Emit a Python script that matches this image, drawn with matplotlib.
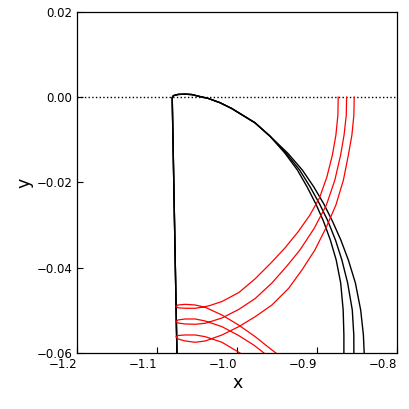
import numpy as np
import matplotlib
matplotlib.use("Agg")
import matplotlib.pyplot as plt

# black curves: shared upper part, then three separate tails
black_top_x = [-1.0754, -1.0813, -1.0798, -1.0741, -1.0654, -1.0566, -1.0488,
               -1.0362, -1.0216, -1.0070, -0.9779, -0.9591]
black_top_y = [-0.06, -0.0001, 0.00035, 0.00063, 0.0007, 0.0006, 0.00023,
               -0.0003, -0.0013, -0.00265, -0.0060, -0.00914]
black_tail_y = [-0.01312, -0.01711, -0.02109, -0.02508, -0.02906, -0.03352,
                -0.0382, -0.04359, -0.04992, -0.05578, -0.06]
black_tail_inner_x = [-0.9404, -0.9247, -0.9125, -0.9016, -0.8922, -0.8835,
                      -0.8762, -0.8706, -0.8675, -0.8666, -0.8666]
black_tail_middle_x = [-0.9389, -0.9219, -0.9087, -0.8969, -0.8866, -0.8771,
                       -0.8691, -0.8619, -0.8561, -0.8542, -0.8541]
black_tail_outer_x = [-0.9369, -0.9185, -0.9041, -0.8916, -0.8810, -0.8704,
                      -0.8610, -0.8522, -0.8456, -0.8422, -0.8412]

# red curves
red1_x = [-0.8737, -0.8741, -0.8766, -0.8810, -0.8879, -0.8972, -0.9091, -0.9241,
          -0.9404, -0.9579, -0.9779, -0.9979, -1.0191, -1.0341, -1.0420, -1.0525,
          -1.0650, -1.0741, -1.0766, -1.0741, -1.0650, -1.0525, -1.0400, -1.0191,
          -0.9983, -0.9775, -0.9566, -0.9516]
red1_y = [0.0, -0.00422, -0.00891, -0.01359, -0.01875, -0.02367, -0.02766, -0.03164,
          -0.03539, -0.03891, -0.04266, -0.04582, -0.04793, -0.04887, -0.04922, -0.04952,
          -0.04952, -0.04941, -0.0491, -0.04875, -0.04859, -0.04875, -0.04929, -0.0511,
          -0.05344, -0.05618, -0.0593, -0.0600]
red2_x = [-0.8632, -0.8636, -0.8664, -0.8707, -0.8779, -0.8885, -0.9035, -0.9216,
          -0.9379, -0.9566, -0.9775, -0.9982, -1.0191, -1.0400, -1.0525, -1.0650,
          -1.0741, -1.0766, -1.0741, -1.0650, -1.0525, -1.0400, -1.0191, -0.9983,
          -0.9791, -0.9666]
red2_y = [0.0, -0.00422, -0.00891, -0.01359, -0.01945, -0.02531, -0.0307, -0.03586,
          -0.03961, -0.04359, -0.04723, -0.0498, -0.0518, -0.05304, -0.05327, -0.0532,
          -0.05297, -0.05266, -0.05226, -0.05203, -0.05203, -0.0525, -0.05383, -0.0559,
          -0.05817, -0.0600]
red3_x = [-0.8537, -0.8541, -0.8566, -0.8610, -0.8672, -0.8766, -0.8891, -0.9029,
          -0.9191, -0.9357, -0.9566, -0.9775, -0.9982, -1.0191, -1.0400, -1.0525,
          -1.0650, -1.0741, -1.0766, -1.0741, -1.0650, -1.0525, -1.0400, -1.0191,
          -0.9966]
red3_y = [0.0, -0.00422, -0.00891, -0.01359, -0.01945, -0.02531, -0.0307, -0.03586,
          -0.04055, -0.04484, -0.04875, -0.05149, -0.05384, -0.05578, -0.05719, -0.05749,
          -0.05719, -0.05672, -0.05618, -0.0559, -0.05578, -0.05578, -0.05618, -0.05749,
          -0.0600]

x_ticks = [-1.2, -1.1, -1.0, -0.9, -0.8]
y_ticks = [-0.06, -0.04, -0.02, 0.00, 0.02]


def main():
    fig = plt.figure(figsize=(4.09, 4.09), dpi=100)
    ax = fig.add_axes([0.189, 0.137, 0.782, 0.834])

    ax.axhline(0.0, color='black', linestyle=':', linewidth=1.0)

    for tail_x in [black_tail_inner_x, black_tail_middle_x, black_tail_outer_x]:
        ax.plot(black_top_x + tail_x, black_top_y + black_tail_y, color='black', linewidth=1.0)

    for rx, ry in [(red1_x, red1_y), (red2_x, red2_y), (red3_x, red3_y)]:
        ax.plot(rx, ry, color='red', linewidth=0.9)

    ax.set_xlim(-1.2, -0.8)
    ax.set_ylim(-0.06, 0.02)
    ax.set_xticks(x_ticks)
    ax.set_xticklabels([f'{t:.1f}'.replace('-', '\u2212') for t in x_ticks], ha='right')
    ax.set_yticks(y_ticks)
    ax.set_yticklabels([f'{t:.2f}'.replace('-', '\u2212') for t in y_ticks])
    ax.tick_params(direction='in', length=4.5, width=0.8, labelsize=8.5)
    for s in ax.spines.values():
        s.set_linewidth(0.9)
    ax.set_xlabel('x', fontsize=12.5, labelpad=2)
    ax.set_ylabel('y', fontsize=12.5, labelpad=2)

    fig.savefig('out.png', dpi=100)


main()
